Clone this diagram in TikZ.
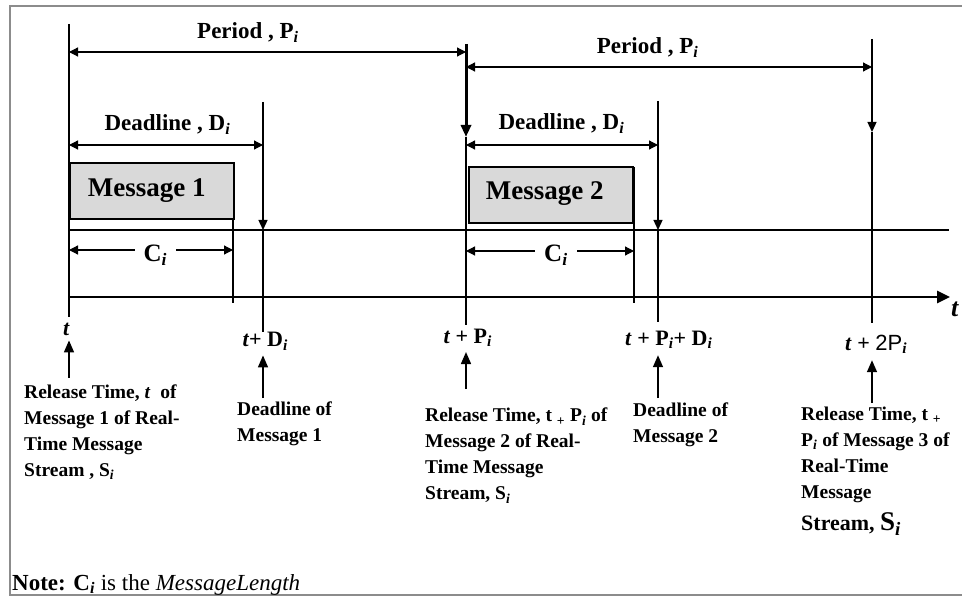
\documentclass[tikz,border=0pt]{standalone}
\usepackage{fontspec}
\setmainfont{Liberation Serif}
\newfontfamily\arialfont{Liberation Sans}
\usetikzlibrary{arrows.meta,calc}
\def\subi{\textsubscript{\textit{i}}}

\tikzset{
	frameline/.style={line width=2pt, color=black!45},
	thinline/.style={line width=1.3pt},
	timeline/.style={line width=2.6pt},
	dimline/.style={line width=1.2pt, <->, >={Triangle[length=9pt,width=9pt]}},
	droparrow/.style={line width=1.3pt, ->, >={Triangle[length=10pt,width=9pt]}},
	liftarrow/.style={line width=1.6pt, ->, >={Triangle[length=12pt,width=10pt]}},
	msgbox/.style={draw, line width=2.4pt, fill=black!15},
	toplabel/.style={anchor=base west, inner sep=0pt, font=\bfseries\fontsize{23}{27}\selectfont},
	msglabel/.style={anchor=base west, inner sep=0pt, font=\bfseries\fontsize{27}{30}\selectfont},
	lenlabel/.style={anchor=base west, fill=white, inner xsep=9pt, inner ysep=1pt, font=\bfseries\fontsize{25}{28}\selectfont},
	timelabel/.style={anchor=base west, inner sep=0pt, font=\bfseries\fontsize{22}{26}\selectfont},
	notelabel/.style={anchor=north west, inner sep=0pt, align=left, font=\bfseries\fontsize{19.5}{26}\selectfont}
}

\begin{document}
\begin{tikzpicture}[x=1pt,y=-1pt]
		%%%%% START %%%%%
		
		\fill[white] (0,0) rectangle (962,596);
		\useasboundingbox (0,0) rectangle (962,596);
		\draw[frameline] (962,6) -- (10,6) -- (10,595) -- (962,595);
		
		\coordinate (r1) at (69,297);
		\coordinate (d1) at (263,297);
		\coordinate (r2) at (466,297);
		\coordinate (d2) at (658,297);
		\coordinate (r3) at (872,297);
		
		% messages
		\draw[msgbox] (70,163) rectangle (234,219);
		\node[msglabel] (msg1) at (87.7,196.7) {Message 1};
		\draw[msgbox] (469,167) rectangle (633,223);
		\node[msglabel] (msg2) at (485.7,200) {Message 2};
		
		% verticals
		\draw[thinline] (69,24) -- (69,317);
		\draw[thinline] (233,219) -- (233,303);
		\draw[droparrow] (263,102) -- (263,230);
		\draw[thinline] (263,230) -- (263,332);
		\draw[line width=3pt, ->, >={Triangle[length=12pt,width=10pt]}] (466,44) -- (466,137);
		\draw[thinline] (466,137) -- (466,325);
		\draw[thinline] (634,167) -- (634,303);
		\draw[droparrow] (658,101) -- (658,230);
		\draw[thinline] (658,230) -- (658,322);
		\draw[droparrow] (872,39) -- (872,132);
		\draw[thinline] (872,132) -- (872,323);
		
		% lines
		\draw[line width=2pt] (69,230) -- (949,230);
		\draw[timeline, ->, >={Triangle[length=13pt,width=12pt]}] (69,297) -- (950,297);
		\node[timelabel, font=\bfseries\itshape\fontsize{26}{28}\selectfont] (axis) at (951,316.7) {t};
		
		% spans
		\draw[dimline] (69,52) -- (466,52);
		\node[toplabel] (per1) at (197,38.3) {Period , P\subi};
		\draw[dimline] (466,67) -- (872,67);
		\node[toplabel] (per2) at (596.7,53.3) {Period , P\subi};
		\draw[dimline] (69,145) -- (263,145);
		\node[toplabel] (dead1) at (104.3,130.7) {Deadline , D\subi};
		\draw[dimline] (466,145) -- (658,145);
		\node[toplabel] (dead2) at (498.3,130) {Deadline , D\subi};
		\draw[dimline] (69,250) -- (233,250);
		\node[lenlabel] (len1) at (134.3,261.7) {C\subi};
		\draw[dimline] (466,251) -- (634,251);
		\node[lenlabel] (len2) at (535,261.7) {C\subi};
		
		% times
		\node[timelabel] (tm1) at (63,335) {\textit{t}};
		\node[timelabel] (tm2) at (242.3,346.7) {\textit{t}+ D\subi};
		\node[timelabel] (tm3) at (443.3,343.3) {\textit{t} + P\subi};
		\node[timelabel] (tm4) at (625,345) {\textit{t} + P\subi+ D\subi};
		\node[timelabel] (tm5) at (845,350) {\textit{t} + {\arialfont\mdseries 2P}\subi};
		
		\node[notelabel] (rel1) at (24,384.8) {Release Time, \textit{t}~~of\\Message 1 of Real-\\Time Message\\Stream , S\subi};
		\node[notelabel] (dl1) at (237,401.5) {Deadline of\\Message 1};
		\node[notelabel] (rel2) at (425,408) {Release Time, t \textsubscript{+}~P\subi~of\\Message 2 of Real-\\Time Message\\Stream, S\subi};
		\node[notelabel] (dl2) at (633,403) {Deadline of\\Message 2};
		\node[notelabel] (rel3) at (801,407) {Release Time, t \textsubscript{+}\\P\subi~of Message 3 of\\Real-Time\\Message\\[6pt]{\fontsize{22}{26}\selectfont Stream, }{\fontsize{27}{30}\selectfont S\subi}};
		
		\draw[liftarrow] ($(rel1.north -| r1)+(0,-7)$) -- ($(tm1.south -| r1)+(0,5)$);
		\draw[liftarrow] ($(dl1.north -| d1)+(0,-3.5)$) -- ($(tm2.south -| d1)+(0,5)$);
		\draw[liftarrow] ($(rel2.north -| r2)+(0,-19)$) -- ($(tm3.south -| r2)+(0,5)$);
		\draw[liftarrow] ($(dl2.north -| d2)+(0,-5)$) -- ($(tm4.south -| d2)+(0,6.5)$);
		\draw[liftarrow] ($(rel3.north -| r3)+(0,-4)$) -- ($(tm5.south -| r3)+(0,6.5)$);
		
		\node[anchor=base west, inner sep=0pt, font=\fontsize{23}{26}\selectfont] (note) at (12,590) {\textbf{Note: C\subi} is the \textit{MessageLength}};
		
		%%%%% END %%%%%
	\end{tikzpicture}
\end{document}
